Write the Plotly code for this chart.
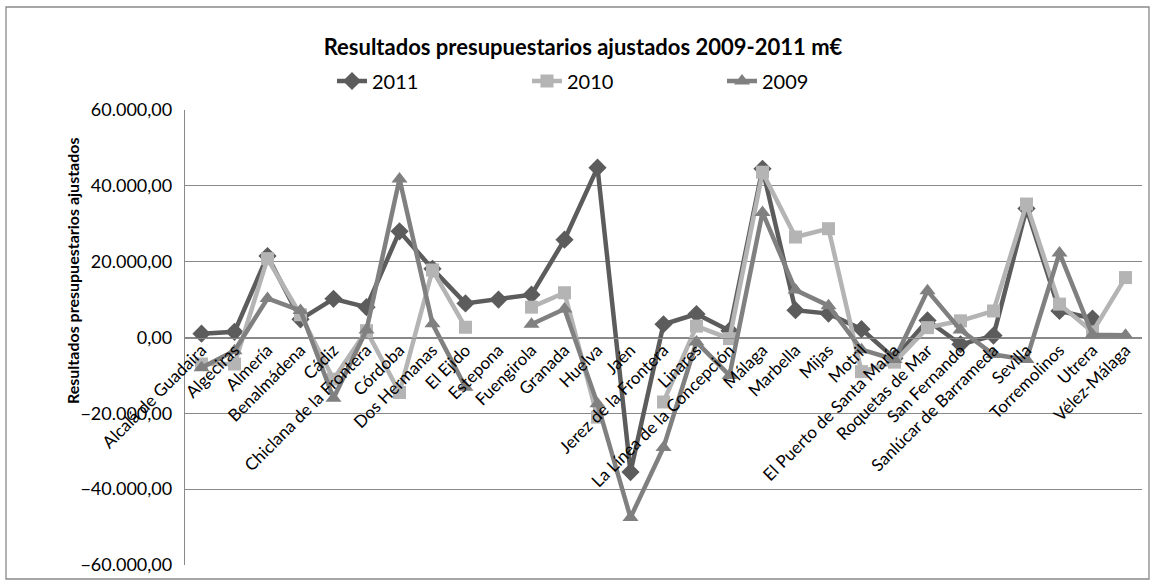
import plotly.graph_objects as go

categories = [
    "Alcalá de Guadaira", "Algeciras", "Almería", "Benalmádena", "Cádiz",
    "Chiclana de la Frontera", "Córdoba", "Dos Hermanas", "El Ejido", "Estepona",
    "Fuengirola", "Granada", "Huelva", "Jaén", "Jerez de la Frontera",
    "Linares", "La Línea de la Concepción", "Málaga", "Marbella", "Mijas",
    "Motril", "El Puerto de Santa María", "Roquetas de Mar", "San Fernando",
    "Sanlúcar de Barrameda", "Sevilla", "Torremolinos", "Utrera", "Vélez-Málaga",
]

v2011 = [1000, 1500, 21500, 4800, 10200, 8000, 28000, 18100, 9000, 10000,
         11300, 25800, 44800, -35500, 3500, 6200, 1800, 44500, 7200, 6300,
         2200, -5500, 4500, -1800, 500, 34000, 7000, 5000, None]
v2010 = [-7000, -7000, 20800, 6000, -11000, 1800, -14500, 17800, 2700, None,
         8000, 11800, -21000, None, -17000, 3000, -300, 43600, 26500, 28700,
         -9000, -6500, 2600, 4400, 7000, 35200, 8800, 1500, 15800]
v2009 = [-8000, -3500, 10300, 7100, -16000, 2000, 41800, 3600, -13100, None,
         3500, 7500, -17500, -47500, -29000, -1200, -10000, 33000, 12500, 8400,
         -3200, -5800, 12300, 2000, -4500, -5800, 22300, 700, 600]

series = [
    ("2011", v2011, "#5c5c5c", "diamond", 14),
    ("2010", v2010, "#b4b4b4", "square", 13),
    ("2009", v2009, "#808080", "triangle-up", 14),
]

W, H = 1155, 585
L, R, T, B = 185, 13, 110, 20
FONT = "Lato"
GRID = "#898989"

fig = go.Figure()
for name, vals, color, sym, size in series:
    fig.add_trace(go.Scatter(
        x=categories, y=vals, name=name, mode="lines+markers",
        connectgaps=False,
        line=dict(color=color, width=4.5),
        marker=dict(symbol=sym, size=size, color=color),
    ))

PW, PH = W - L - R, H - T - B


def px_x(px):
    return (px - L) / PW


def px_y(py):
    return (H - B - py) / PH


fig.update_layout(
    width=W, height=H,
    margin=dict(l=L, r=R, t=T, b=B, autoexpand=False),
    paper_bgcolor="white", plot_bgcolor="white",
    separators=",.",
    font=dict(family=FONT, color="black"),
    title=dict(
        text="<b>Resultados presupuestarios ajustados 2009-2011 m€</b>",
        x=583 / W, xref="container", xanchor="center",
        y=1 - 47 / H, yref="container", yanchor="middle",
        font=dict(family=FONT, size=22, color="black"),
    ),
    legend=dict(
        orientation="h", xref="paper", yref="paper",
        x=px_x(332), xanchor="left", y=px_y(81), yanchor="middle",
        font=dict(family=FONT, size=20, color="black"),
        entrywidth=150, entrywidthmode="pixels",
        bgcolor="rgba(0,0,0,0)",
    ),
    xaxis=dict(
        type="category", categoryorder="array", categoryarray=categories,
        range=[-0.5, 28.5],
        anchor="free", position=0.5,
        showgrid=False, zeroline=False,
        showline=True, linecolor=GRID, linewidth=1.3,
        ticks="", tickangle=-45,
        tickfont=dict(family=FONT, size=17, color="black"),
        ticklabelstandoff=-5,
        automargin=False,
    ),
    yaxis=dict(
        range=[-60000, 60000], dtick=20000, tick0=0,
        tickformat=",.2f",
        showgrid=True, gridcolor=GRID, gridwidth=1.3,
        zeroline=True, zerolinecolor=GRID, zerolinewidth=1.3,
        showline=True, linecolor=GRID, linewidth=1.3,
        ticks="", ticklabelstandoff=8,
        tickfont=dict(family=FONT, size=18, color="black"),
        automargin=False,
    ),
    showlegend=True,
)

fig.add_annotation(
    text="<b>Resultados presupuestarios ajustados</b>",
    xref="paper", yref="paper", x=px_x(72), y=px_y(271),
    textangle=-90, showarrow=False, xanchor="center", yanchor="middle",
    font=dict(family=FONT, size=16, color="black"),
)

fig.add_shape(
    type="rect", xref="paper", yref="paper",
    x0=px_x(6), x1=px_x(1149), y0=px_y(579), y1=px_y(7),
    line=dict(color=GRID, width=1.3), fillcolor="rgba(0,0,0,0)", layer="below",
)

fig.write_html(
    "out.html",
    config={"displayModeBar": False},
    post_script="document.body.style.margin='0';document.body.style.overflow='hidden';",
)
